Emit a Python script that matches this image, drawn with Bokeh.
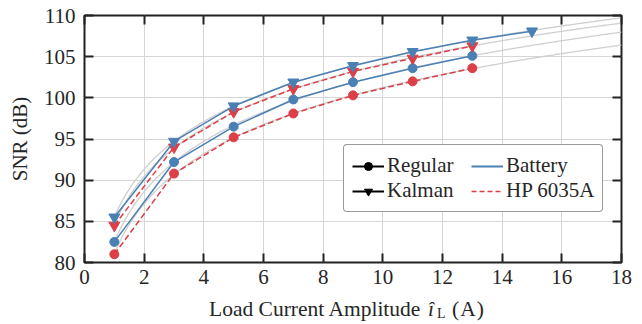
import numpy as np
from bokeh.plotting import figure
from bokeh.models import (ColumnDataSource, Legend, LegendItem, LinearAxis,
                          FixedTicker, Range1d, Div)
from bokeh.layouts import column
from bokeh.embed import file_html
from bokeh.resources import INLINE

# ---- data ----
x_bat_reg = [1, 3, 5, 7, 9, 11, 13]
y_bat_reg = [82.5, 92.2, 96.5, 99.8, 101.9, 103.6, 105.1]
x_hp_reg = [1, 3, 5, 7, 9, 11, 13]
y_hp_reg = [81.0, 90.8, 95.2, 98.1, 100.3, 102.0, 103.6]
x_bat_kal = [1, 3, 5, 7, 9, 11, 13, 15]
y_bat_kal = [85.5, 94.7, 99.0, 101.9, 103.9, 105.6, 107.0, 108.1]
x_hp_kal = [1, 3, 5, 7, 9, 11, 13]
y_hp_kal = [84.5, 94.0, 98.3, 101.1, 103.2, 104.8, 106.3]

x_ticks = [0, 2, 4, 6, 8, 10, 12, 14, 16, 18]
y_ticks = [80, 85, 90, 95, 100, 105, 110]

BLUE = "#4a80b4"
RED = "#dc3f47"
GREY = "#cfcfcf"
DARK = "#222222"
TXT = "#262626"
FONT = "Liberation Serif"

FIG_H = 296
p = figure(width=642, height=FIG_H, output_backend="svg", toolbar_location=None,
           x_range=Range1d(0, 18), y_range=Range1d(80, 110),
           min_border_left=84, min_border_right=21, min_border_top=15,
           min_border_bottom=FIG_H - 262, margin=0)
p.background_fill_color = "white"
p.border_fill_color = "white"
p.outline_line_color = DARK
p.outline_line_width = 2

# grid
p.xgrid.ticker = FixedTicker(ticks=x_ticks)
p.ygrid.ticker = FixedTicker(ticks=y_ticks)
for g in (p.xgrid[0], p.ygrid[0]):
    g.grid_line_color = "#d6d6d6"
    g.grid_line_width = 1

def style_axis(ax, ticks, show_labels=True):
    ax.ticker = FixedTicker(ticks=ticks)
    ax.axis_line_color = None
    ax.major_tick_in = 9
    ax.major_tick_out = 0
    ax.major_tick_line_color = DARK
    ax.major_tick_line_width = 2
    ax.minor_tick_line_color = None
    ax.major_label_text_font = FONT
    ax.major_label_text_font_size = "21px"
    ax.major_label_text_color = TXT
    if not show_labels:
        ax.major_label_overrides = {t: "" for t in ticks}

style_axis(p.xaxis[0], x_ticks)
style_axis(p.yaxis[0], y_ticks)
p.xaxis[0].major_label_standoff = 7
p.yaxis[0].major_label_standoff = 9
p.yaxis[0].axis_label = "SNR (dB)"
p.yaxis[0].axis_label_text_font = FONT
p.yaxis[0].axis_label_text_font_size = "21px"
p.yaxis[0].axis_label_text_font_style = "normal"
p.yaxis[0].axis_label_text_color = TXT
p.yaxis[0].axis_label_standoff = 9

top = LinearAxis()
style_axis(top, x_ticks, show_labels=False)
p.add_layout(top, "above")
right = LinearAxis()
style_axis(right, y_ticks, show_labels=False)
p.add_layout(right, "right")

# fitted (log) trend curves derived from the data
xf = np.linspace(0.95, 18, 200)
for xs, ys in [(x_bat_reg, y_bat_reg), (x_hp_reg, y_hp_reg),
               (x_bat_kal, y_bat_kal), (x_hp_kal, y_hp_kal)]:
    b, a = np.polyfit(np.log(xs), ys, 1)
    p.line(xf, a + b * np.log(xf), line_color=GREY, line_width=1.3)

# series
p.line(x_hp_reg, y_hp_reg, line_color=RED, line_width=1.5, line_dash="6 3")
p.scatter(x_hp_reg, y_hp_reg, marker="circle", size=9, fill_color=RED, line_color=RED)
p.line(x_bat_reg, y_bat_reg, line_color=BLUE, line_width=1.5)
p.scatter(x_bat_reg, y_bat_reg, marker="circle", size=9, fill_color=BLUE, line_color=BLUE)
p.line(x_hp_kal, y_hp_kal, line_color=RED, line_width=1.5, line_dash="6 3")
p.scatter(x_hp_kal, y_hp_kal, marker="inverted_triangle", size=11, fill_color=RED, line_color=RED)
p.line(x_bat_kal, y_bat_kal, line_color=BLUE, line_width=1.5)
p.scatter(x_bat_kal, y_bat_kal, marker="inverted_triangle", size=11, fill_color=BLUE, line_color=BLUE)

# legend proxies (placed outside the visible ranges)
off = dict(x=[-10, -9], y=[0, 0])
r_reg_l = p.line(x="x", y="y", source=ColumnDataSource(off), line_color="black", line_width=1.8)
r_reg_m = p.scatter(x="x", y="y", source=ColumnDataSource(off), marker="circle", size=8, fill_color="black", line_color="black")
r_kal_l = p.line(x="x", y="y", source=ColumnDataSource(off), line_color="black", line_width=1.8)
r_kal_m = p.scatter(x="x", y="y", source=ColumnDataSource(off), marker="inverted_triangle", size=9, fill_color="black", line_color="black")
r_bat = p.line(x="x", y="y", source=ColumnDataSource(off), line_color=BLUE, line_width=1.8)
r_hp = p.line(x="x", y="y", source=ColumnDataSource(off), line_color=RED, line_width=1.5, line_dash="5 3")

legend = Legend(items=[
    LegendItem(label="Regular", renderers=[r_reg_l, r_reg_m]),
    LegendItem(label="Kalman", renderers=[r_kal_l, r_kal_m]),
    LegendItem(label="Battery", renderers=[r_bat]),
    LegendItem(label="HP 6035A", renderers=[r_hp]),
], ncols=2, location=(259, 50))
legend.label_text_font = FONT
legend.label_text_font_size = "21px"
legend.label_text_color = TXT
legend.label_standoff = 3
legend.label_height = 20
legend.label_width = 84
legend.glyph_width = 32
legend.glyph_height = 20
legend.spacing = 0
legend.padding = 8
legend.margin = 0
legend.border_line_color = "#333333"
legend.border_line_width = 1.5
legend.background_fill_alpha = 1
try:
    legend.border_radius = 4
except Exception:
    pass
p.add_layout(legend, "center")

# x-axis label (with hat-i and subscript L) as real text below the plot
xlabel_parts = ["Load Current Amplitude", "\u00ee", "L", "(A)"]
html = (
    '<div style="position:relative;width:642px;height:28px;'
    "font-family:'Liberation Serif','Times New Roman',serif;color:#262626;\">"
    '<span style="position:absolute;left:209px;top:3px;font-size:21.5px;line-height:21.5px;white-space:nowrap;">%s</span>'
    '<span style="position:absolute;left:428px;top:3px;font-size:21.5px;line-height:21.5px;font-style:italic;">%s</span>'
    '<span style="position:absolute;left:437px;top:11px;font-size:14px;line-height:14px;">%s</span>'
    '<span style="position:absolute;left:452px;top:3px;font-size:21.5px;line-height:21.5px;letter-spacing:1px;white-space:nowrap;">%s</span>'
    "</div>"
) % tuple(xlabel_parts)
xlabel = Div(text=html, width=642, height=324 - FIG_H, margin=0)

layout = column(p, xlabel, spacing=0, margin=0)
open("out.html", "w").write(file_html(layout, INLINE))
